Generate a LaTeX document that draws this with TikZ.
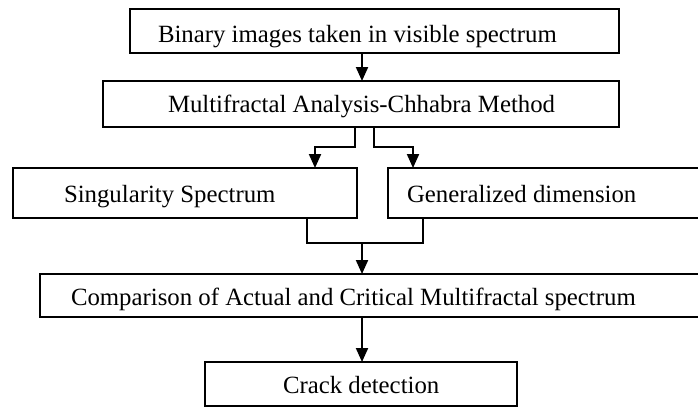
\documentclass[tikz,border=0pt]{standalone}
\usepackage{fontspec}
\setmainfont{Liberation Serif}
\usetikzlibrary{arrows.meta}

\tikzset{
  box/.style={draw=black, line width=2pt, rectangle, inner sep=0pt, outer sep=0pt,
              anchor=north west, fill=white},
  lbl/.style={inner sep=0pt, outer sep=0pt, anchor=base west, text=black,
              font=\fontsize{24.8}{30}\selectfont},
  wire/.style={draw=black, line width=2pt},
  arr/.style={wire, -{Triangle[width=12pt,length=14pt]}},
}

\begin{document}
\begin{tikzpicture}[x=1pt, y=-1pt]
  \useasboundingbox (0,0) rectangle (698,408);
  \clip (0,0) rectangle (698,408);

  % process boxes
  \node[box, minimum width=489pt, minimum height=44pt] (b1) at (130,9) {};
  \node[box, minimum width=516pt, minimum height=46pt] (b2) at (103,81) {};
  \node[box, minimum width=344pt, minimum height=50pt] (b3) at (13,168) {};
  \node[box, minimum width=320pt, minimum height=50pt] (b4) at (388,168) {};
  \node[box, minimum width=670pt, minimum height=43pt] (b5) at (40,274) {};
  \node[box, minimum width=312pt, minimum height=44pt] (b6) at (205,362) {};

  % box captions
  \node[lbl] (t1) at (158,42)  {Binary images taken in visible spectrum};
  \node[lbl] (t2) at (168,112) {Multifractal Analysis-Chhabra Method};
  \node[lbl] (t3) at (64,202)  {Singularity Spectrum};
  \node[lbl] (t4) at (407,202) {Generalized dimension};
  \node[lbl] (t5) at (71,305)  {Comparison of Actual and Critical Multifractal spectrum};
  \node[lbl] (t6) at (283,393) {Crack detection};

  % routing points
  \coordinate (axis) at (362,0);
  \coordinate (sL) at (355,147);
  \coordinate (sR) at (374,147);
  \coordinate (aL) at (315,0);
  \coordinate (aR) at (413,0);
  \coordinate (mL) at (307,243);
  \coordinate (mR) at (423,243);

  % connectors
  \draw[arr] (b1.south -| axis) -- (b2.north -| axis);
  \draw[arr] (b2.south -| sL) -- (sL) -| (b3.north -| aL);
  \draw[arr] (b2.south -| sR) -- (sR) -| (b4.north -| aR);
  \draw[wire] (b3.south -| mL) -- (mL) -- (mR) -- (b4.south -| mR);
  \draw[arr] (mL -| axis) -- (b5.north -| axis);
  \draw[arr] (b5.south -| axis) -- (b6.north -| axis);
\end{tikzpicture}
\end{document}
